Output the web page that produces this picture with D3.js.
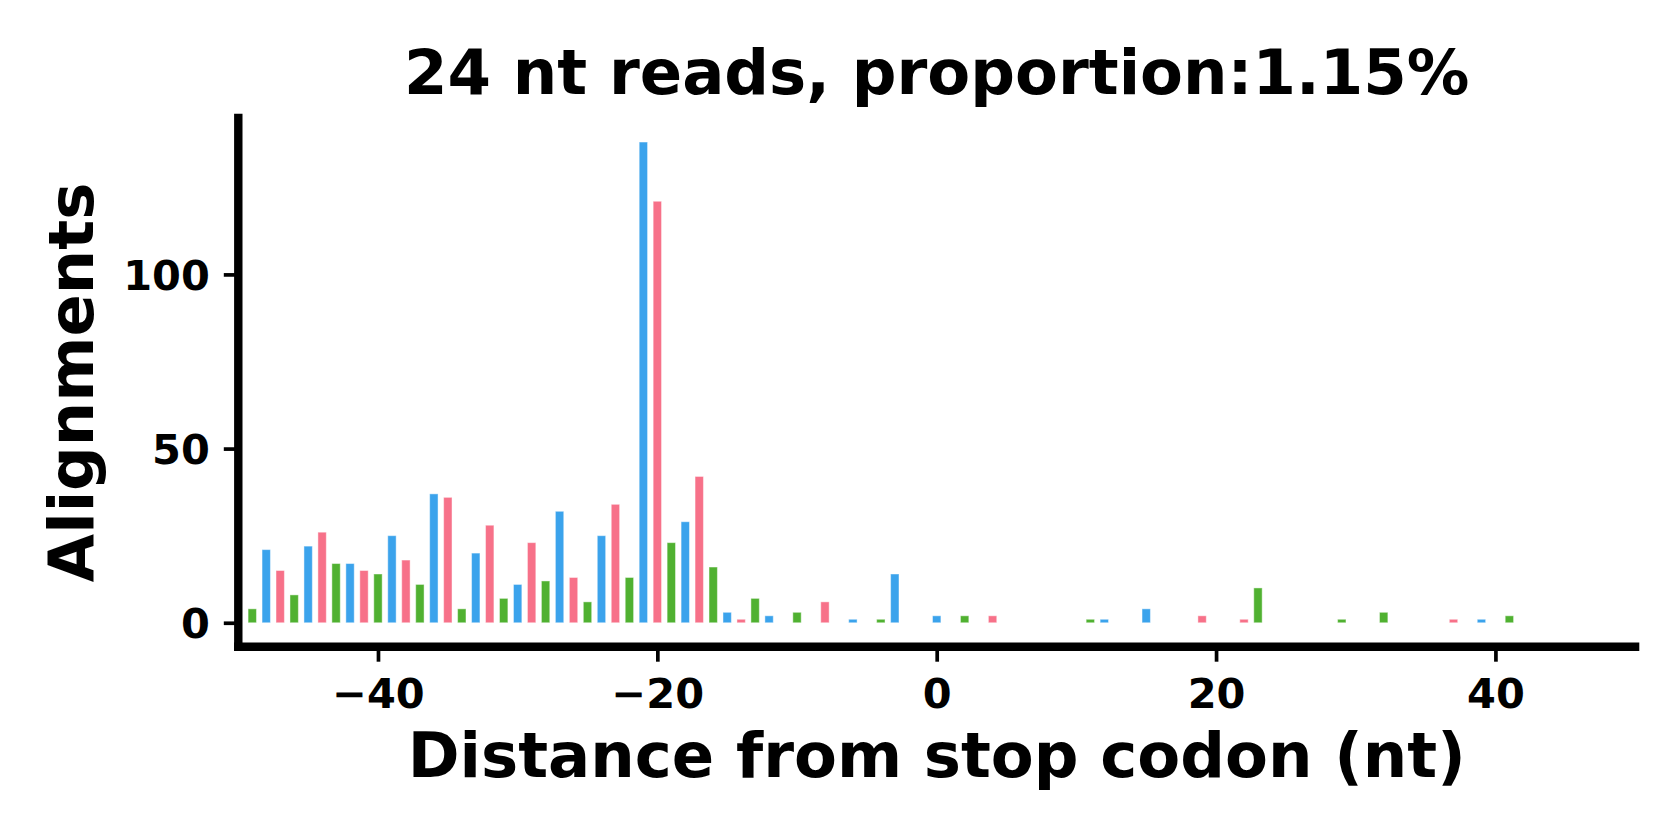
<!DOCTYPE html>
<html>
<head>
<meta charset="utf-8">
<script src="https://cdn.jsdelivr.net/npm/d3@7"></script>
<style>
  html, body { margin: 0; padding: 0; background: #ffffff; }
  svg { display: block; }
  text { font-family: "DejaVu Sans", sans-serif; font-weight: bold; fill: #000; }
</style>
</head>
<body>
<svg id="chart" width="1680" height="840"></svg>
<script>
// ---- data ----
const titleText = "24 nt reads, proportion:1.15%";
const xLabelText = "Distance from stop codon (nt)";
const yLabelText = "Alignments";
const xTicks = [-40, -20, 0, 20, 40];
const yTicks = [0, 50, 100];
// distance from stop codon (nt) with non-zero counts
const distances = [-49,-48,-47,-46,-45,-44,-43,-42,-41,-40,-39,-38,-37,-36,-35,-34,-33,-32,-31,
  -30,-29,-28,-27,-26,-25,-24,-23,-22,-21,-20,-19,-18,-17,-16,-15,-14,-13,-12,-10,-8,-6,-4,-3,
  0,2,4,11,12,15,19,22,23,29,32,37,39,41];
const alignments = [4,21,15,8,22,26,17,17,15,14,25,18,11,37,36,4,20,28,7,
  11,23,12,32,13,6,25,34,13,138,121,23,29,42,16,3,1,7,2,3,6,1,1,14,
  2,2,2,1,1,4,2,1,10,1,3,1,1,2];
// frame colours (position mod 3): 0 -> blue, 1 -> pink, 2 -> green
const frameColors = ["#3ba3ec", "#f77189", "#50b131"];

// ---- layout ----
const svg = d3.select("#chart");
const yMax = d3.max(alignments);
const x = d3.scaleLinear().domain([-50, 50]).range([238.3, 1635.1]);
const y = d3.scaleLinear().domain([-0.05 * yMax, 1.05 * yMax]).range([646.8, 118.0]);
const barW = 0.6;

// bars
svg.append("g").selectAll("rect")
  .data(distances.map((d, i) => ({ d, v: alignments[i] })))
  .join("rect")
  .attr("x", p => x(p.d - barW / 2))
  .attr("width", p => x(p.d + barW / 2) - x(p.d - barW / 2))
  .attr("y", p => y(p.v))
  .attr("height", p => y(0) - y(p.v))
  .attr("fill", p => frameColors[((p.d % 3) + 3) % 3])
  .attr("stroke", "rgba(255,255,255,0.45)")
  .attr("stroke-width", 1);

// x axis
const xAxis = svg.append("g")
  .attr("transform", `translate(0,${y.range()[0]})`)
  .call(d3.axisBottom(x).tickValues(xTicks).tickSize(14.9).tickSizeOuter(0));
xAxis.select(".domain").remove();
xAxis.selectAll(".tick line").attr("stroke", "#000").attr("stroke-width", 3.7);
xAxis.selectAll(".tick text")
  .attr("y", 61.5).attr("dy", 0)
  .style("font-size", "41.5px").style("font-family", "DejaVu Sans").style("font-weight", "bold")
  .attr("fill", "#000");

// y axis
const yAxis = svg.append("g")
  .attr("transform", `translate(${x.range()[0]},0)`)
  .call(d3.axisLeft(y).tickValues(yTicks).tickSize(14.5).tickSizeOuter(0));
yAxis.select(".domain").remove();
yAxis.selectAll(".tick line").attr("stroke", "#000").attr("stroke-width", 3.7);
yAxis.selectAll(".tick text")
  .attr("x", -28.5).attr("dy", "0.36em")
  .style("font-size", "41.5px").style("font-family", "DejaVu Sans").style("font-weight", "bold")
  .attr("fill", "#000");

// spines (left + bottom)
const [x0, x1] = x.range();
const [yb, yt] = y.range();
svg.append("line").attr("x1", x0).attr("x2", x0).attr("y1", yb).attr("y2", yt)
  .attr("stroke", "#000").attr("stroke-width", 8.4).attr("stroke-linecap", "square");
svg.append("line").attr("x1", x0).attr("x2", x1).attr("y1", yb).attr("y2", yb)
  .attr("stroke", "#000").attr("stroke-width", 8.4).attr("stroke-linecap", "square");

// title
svg.append("text")
  .attr("x", (x0 + x1) / 2).attr("y", 94)
  .attr("text-anchor", "middle")
  .style("font-size", "62.5px")
  .text(titleText);

// x label
svg.append("text")
  .attr("x", (x0 + x1) / 2).attr("y", 777)
  .attr("text-anchor", "middle")
  .style("font-size", "62.5px")
  .text(xLabelText);

// y label
svg.append("text")
  .attr("transform", `translate(93,${(yb + yt) / 2}) rotate(-90)`)
  .attr("text-anchor", "middle")
  .style("font-size", "62.5px")
  .text(yLabelText);
</script>
</body>
</html>
